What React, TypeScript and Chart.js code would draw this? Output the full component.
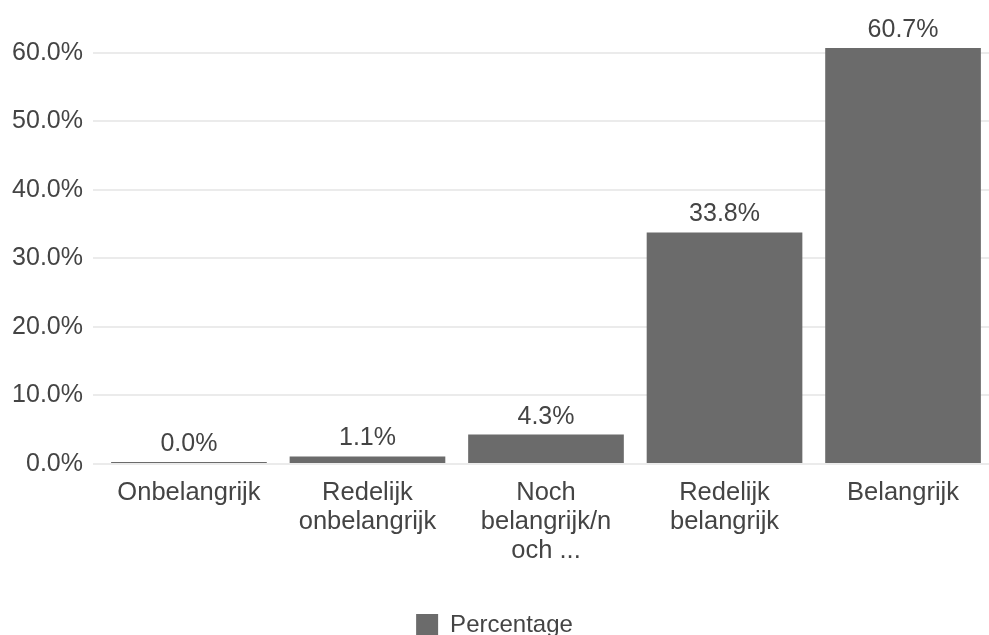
import React, { useEffect, useRef } from "react";
import { Chart, registerables } from "chart.js";

Chart.register(...registerables);

// Answer categories, wrapped into display lines for the x axis
const categories: string[][] = [
  ["Onbelangrijk"],
  ["Redelijk", "onbelangrijk"],
  ["Noch", "belangrijk/n", "och ..."],
  ["Redelijk", "belangrijk"],
  ["Belangrijk"],
];

// Share of respondents per category (%)
const percentages: number[] = [0.0, 1.1, 4.3, 33.8, 60.7];

// Y axis tick values (%)
const yTicks: number[] = [0, 10, 20, 30, 40, 50, 60];

const seriesLabel = "Percentage";

const FONT = '"Liberation Sans", Arial, sans-serif';
const BAR = "#6b6b6b";
const TEXT = "#444444";

const valueLabels = {
  id: "valueLabels",
  afterDatasetsDraw(chart: any) {
    const ctx = chart.ctx;
    const meta = chart.getDatasetMeta(0);
    ctx.save();
    ctx.font = `25px ${FONT}`;
    ctx.fillStyle = TEXT;
    ctx.textAlign = "center";
    ctx.textBaseline = "alphabetic";
    meta.data.forEach((bar: any, i: number) => {
      const v = percentages[i];
      ctx.fillText(`${v.toFixed(1)}%`, bar.x, bar.y - 11);
    });
    ctx.restore();
  },
};

export default function App() {
  const canvasRef = useRef<HTMLCanvasElement | null>(null);

  useEffect(() => {
    if (!canvasRef.current) return;
    const chart = new Chart(canvasRef.current, {
      type: "bar",
      data: {
        datasets: [
          {
            label: seriesLabel,
            data: percentages.map((v, i) => ({ x: i, y: v })),
            backgroundColor: BAR,
            borderWidth: 0,
            categoryPercentage: 1,
            barPercentage: 0.872,
            minBarLength: 2,
          },
        ],
      },
      options: {
        animation: false,
        responsive: true,
        maintainAspectRatio: false,
        layout: { padding: { top: 46, left: 0, right: 0, bottom: 0 } },
        scales: {
          x: {
            type: "linear",
            offset: false,
            min: -0.5375,
            max: 4.4815,
            grid: { display: false },
            border: { display: false },
            afterBuildTicks: (scale: any) => {
              scale.ticks = categories.map((_, i) => ({ value: i }));
            },
            afterFit: (scale: any) => {
              scale.height = 139;
            },
            ticks: {
              autoSkip: false,
              maxRotation: 0,
              minRotation: 0,
              padding: 6,
              color: TEXT,
              font: { family: FONT, size: 25.5, lineHeight: 1.15 },
              callback: (value: any) => categories[Math.round(Number(value))] ?? "",
            },
          },
          y: {
            min: 0,
            max: 61,
            grid: { color: "#ebebeb", lineWidth: 2, drawTicks: false },
            border: { display: false },
            afterBuildTicks: (scale: any) => {
              scale.ticks = yTicks.map((v) => ({ value: v }));
            },
            afterFit: (scale: any) => {
              scale.width = 93;
            },
            ticks: {
              padding: 10,
              color: TEXT,
              font: { family: FONT, size: 25 },
              callback: (value: any) => `${Number(value).toFixed(1)}%`,
            },
          },
        },
        plugins: {
          legend: {
            position: "bottom",
            labels: {
              boxWidth: 22,
              boxHeight: 22,
              color: TEXT,
              font: { family: FONT, size: 24 },
              padding: 10,
            },
          },
          tooltip: { enabled: false },
        },
      },
      plugins: [valueLabels],
    });
    return () => chart.destroy();
  }, []);

  return (
    <div
      style={{
        position: "fixed",
        left: 0,
        top: 0,
        width: 989,
        height: 635,
        overflow: "hidden",
        background: "#ffffff",
      }}
    >
      <div style={{ position: "relative", width: 989, height: 647 }}>
        <canvas ref={canvasRef} />
      </div>
    </div>
  );
}
